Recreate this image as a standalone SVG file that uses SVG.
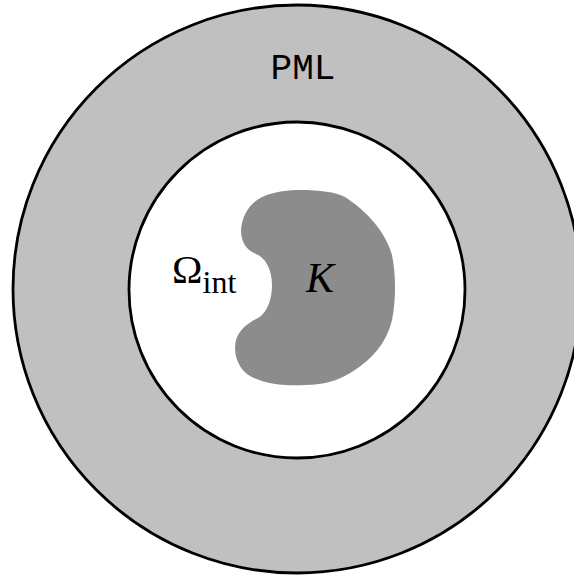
<svg xmlns="http://www.w3.org/2000/svg" width="574" height="577" viewBox="0 0 574 577">
<style>
.ring{stroke:#000;stroke-width:2.8}
.lbl{font-family:"Liberation Serif","DejaVu Serif",serif;fill:#000}
</style>
<rect width="574" height="577" fill="#fff"/>
<g id="pml">
<circle class="ring" cx="297" cy="289" r="284" fill="#c0c0c0"/>
<text x="303" y="79" font-family="'Liberation Mono','DejaVu Sans Mono',monospace" font-size="36" text-anchor="middle">PML</text>
</g>
<g id="interior">
<circle class="ring" cx="297" cy="290" r="168" fill="#fff"/>
<text class="lbl" x="172" y="283" font-size="41">Ω<tspan font-family="Liberation Serif, serif" font-size="32" dy="10">int</tspan></text>
</g>
<g id="obstacle">
<path fill="#8c8c8c" d="M300 190 C320 190 335 192 345 197 C365 210 385 230 392 255 C396 275 396 300 392 320 C386 345 370 360 355 370 C340 380 325 385 305 385 C285 386 265 384 250 376 C237 368 233 352 236 340 C240 328 250 322 258 318 C268 312 272 298 272 285 C272 270 266 258 256 254 C246 250 241 242 241 230 C242 215 250 203 262 197 C275 191 290 190 300 190 Z"/>
<text class="lbl" x="306" y="292" font-size="42" font-style="italic">K</text>
</g>
<g id="connectors"/>
</svg>
